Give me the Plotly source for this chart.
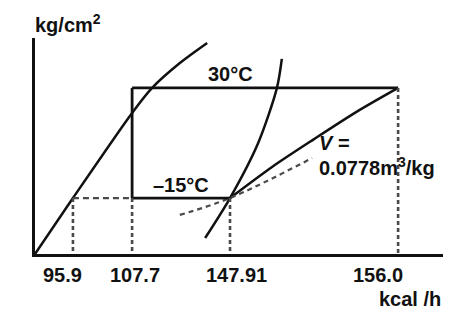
import plotly.graph_objects as go

# Schematic p-h diagram (positions in schematic units, 0-100 on both axes)
h_positions = [9.3, 23.8, 47.8, 89.0]
h_labels = ["95.9", "107.7", "147.91", "156.0"]
p_high = 76.9   # 30°C condensing pressure
p_low = 25.9    # -15°C evaporating pressure

liq_x = [0, 9.3, 23.8, 28.7, 35.5, 42.2]
liq_y = [0, 25.9, 65.3, 76.9, 88.4, 97.7]

vap_x = [41.7, 47.8, 54.7, 59.3, 60.5]
vap_y = [7.4, 25.9, 51.4, 76.9, 90.3]

comp_x = [47.8, 58.1, 68.4, 78.7, 89.0]
comp_y = [25.9, 40.3, 53.2, 65.7, 76.9]

vol_x = [35.5, 47.8, 67.9]
vol_y = [18.1, 25.9, 44.4]

FONT = "Liberation Sans, Arial, sans-serif"
BLACK = "#111111"
GRAY = "#4a4a4a"

fig = go.Figure()

# saturated liquid and vapour curves
fig.add_trace(go.Scatter(x=liq_x, y=liq_y, mode="lines",
                         line=dict(color=BLACK, width=2.5, shape="spline", smoothing=0.8),
                         hoverinfo="skip"))
fig.add_trace(go.Scatter(x=vap_x, y=vap_y, mode="lines",
                         line=dict(color=BLACK, width=2.5, shape="spline", smoothing=0.8),
                         hoverinfo="skip"))
# compression line
fig.add_trace(go.Scatter(x=comp_x, y=comp_y, mode="lines",
                         line=dict(color=BLACK, width=2.5, shape="spline", smoothing=0.8),
                         hoverinfo="skip"))
# specific volume line (dashed)
fig.add_trace(go.Scatter(x=vol_x, y=vol_y, mode="lines",
                         line=dict(color=GRAY, width=2.2, dash="5px,4px", shape="spline"),
                         hoverinfo="skip"))

# refrigeration cycle: condensing line, expansion, evaporating line
fig.add_trace(go.Scatter(x=[h_positions[1], h_positions[3]], y=[p_high, p_high], mode="lines",
                         line=dict(color=BLACK, width=2.8), hoverinfo="skip"))
fig.add_trace(go.Scatter(x=[h_positions[1], h_positions[1]], y=[p_high, p_low], mode="lines",
                         line=dict(color=BLACK, width=2.8), hoverinfo="skip"))
fig.add_trace(go.Scatter(x=[h_positions[1], h_positions[2]], y=[p_low, p_low], mode="lines",
                         line=dict(color=BLACK, width=2.8), hoverinfo="skip"))

# dashed horizontal from liquid line to expansion
fig.add_trace(go.Scatter(x=[h_positions[0], h_positions[1]], y=[p_low, p_low], mode="lines",
                         line=dict(color=GRAY, width=2.2, dash="6px,4px"), hoverinfo="skip"))

# dotted vertical drop lines
tops = [p_low, p_low, p_low, p_high]
for hx, top in zip(h_positions, tops):
    fig.add_trace(go.Scatter(x=[hx, hx], y=[top, 0], mode="lines",
                             line=dict(color=GRAY, width=2.6, dash="4px,3px"), hoverinfo="skip"))

# tick labels (schematic, not to scale)
label_shift = [-10, 3, 6, -20]
for hx, lab, sh in zip(h_positions, h_labels, label_shift):
    fig.add_annotation(x=hx, y=0, xref="x", yref="y", text=f"<b>{lab}</b>",
                       showarrow=False, xanchor="center", yanchor="middle",
                       xshift=sh, yshift=-21, font=dict(family=FONT, size=20, color=BLACK))

def label(x, y, text, xanchor="center", size=20, ref="data"):
    if ref == "paper":
        fig.add_annotation(x=x, y=y, xref="paper", yref="paper", text=text, showarrow=False,
                           xanchor=xanchor, yanchor="middle",
                           font=dict(family=FONT, size=size, color=BLACK))
    else:
        fig.add_annotation(x=x, y=y, xref="x", yref="y", text=text, showarrow=False,
                           xanchor=xanchor, yanchor="middle",
                           font=dict(family=FONT, size=size, color=BLACK))

# axis unit labels (placed outside the plotting area, so paper coordinates)
label(-0.006, 1.069, "<b>kg/cm<sup>2</sup></b>", xanchor="left", ref="paper")
label(1.0, -0.208, "<b>kcal /h</b>", xanchor="right", ref="paper")

label(48.0, 83.3, "<b>30°C</b>")
label(35.8, 31.9, "<b>–15°C</b>")
label(69.1, 51.4, "<b><i>V</i> =</b>", xanchor="left")
label(69.1, 40.7, "<b>0.0778m<sup>3</sup>/kg</b>", xanchor="left")

fig.update_layout(
    width=462, height=319,
    margin=dict(l=35, r=19, t=38, b=65),
    paper_bgcolor="white", plot_bgcolor="white",
    showlegend=False,
    xaxis=dict(range=[0, 100], showgrid=False, zeroline=False, showline=True,
               linecolor=BLACK, linewidth=3, showticklabels=False, ticks="",
               fixedrange=True),
    yaxis=dict(range=[0, 100], showgrid=False, zeroline=False, showline=True,
               linecolor=BLACK, linewidth=3, showticklabels=False, ticks="",
               fixedrange=True),
)

fig.write_html("out.html", config=dict(displayModeBar=False))
